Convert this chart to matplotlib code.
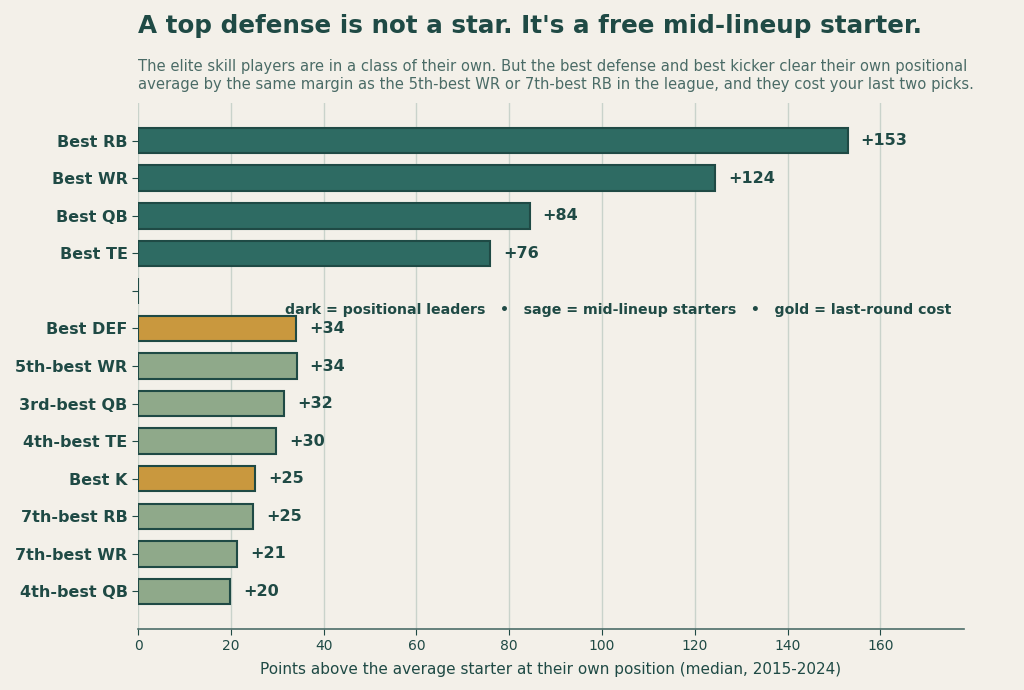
import matplotlib
matplotlib.use("Agg")
import matplotlib.pyplot as plt

# rows, top to bottom ("" is the spacer between leaders and the rest)
labels = ["Best RB", "Best WR", "Best QB", "Best TE", "",
          "Best DEF", "5th-best WR", "3rd-best QB", "4th-best TE",
          "Best K", "7th-best RB", "7th-best WR", "4th-best QB"]
values = [152.9, 124.4, 84.4, 75.8, 0,
          34.0, 34.2, 31.5, 29.8, 25.2, 24.8, 21.4, 19.9]
groups = ["dark", "dark", "dark", "dark", "none",
          "gold", "sage", "sage", "sage", "gold", "sage", "sage", "sage"]

BG = "#f3f0e9"
INK = "#1f4a45"
palette = {"dark": "#2e6b63", "sage": "#8fa98a", "gold": "#c9983e", "none": BG}

fig = plt.figure(figsize=(10.24, 6.9), dpi=100, facecolor=BG)
ax = fig.add_axes([0.1348, 0.0884, 0.8066, 0.7623], facecolor=BG)

ypos = list(range(len(labels)))
ax.barh(ypos, values, height=0.68, color=[palette[g] for g in groups],
        edgecolor=INK, linewidth=1.5, zorder=3)

for y, v, g in zip(ypos, values, groups):
    if g == "none":
        continue
    ax.text(v + 2.8, y, f"+{v:.0f}", va="center", ha="left",
            fontsize=11.5, fontweight="bold", color=INK, zorder=4)

ax.set_yticks(ypos)
ax.set_yticklabels(labels, fontsize=11.5, fontweight="bold", color=INK)
ax.set_ylim(len(labels), -1)
ax.set_xlim(0, 178)
ax.set_xticks(range(0, 161, 20))
ax.tick_params(axis="x", colors=INK, labelsize=10, length=4)
ax.tick_params(axis="y", colors=INK, length=4)
ax.xaxis.grid(True, color="#c9d3cb", linewidth=1, zorder=0)
ax.set_axisbelow(True)
for side in ["top", "right", "left"]:
    ax.spines[side].set_visible(False)
ax.spines["bottom"].set_color("#4d6e69")
ax.spines["bottom"].set_linewidth(1.2)

ax.set_xlabel("Points above the average starter at their own position (median, 2015-2024)",
              fontsize=11, color=INK, labelpad=6)

ax.text(175.3, 4.5,
        "dark = positional leaders   \u2022   sage = mid-lineup starters   \u2022   gold = last-round cost",
        ha="right", va="center", fontsize=10.2, fontweight="bold", color=INK, zorder=5)

fig.text(0.1348, 0.962, "A top defense is not a star. It's a free mid-lineup starter.",
         ha="left", va="center", fontsize=17.7, fontweight="bold", color=INK)
fig.text(0.1348, 0.891,
         "The elite skill players are in a class of their own. But the best defense and best kicker clear their own positional\n"
         "average by the same margin as the 5th-best WR or 7th-best RB in the league, and they cost your last two picks.",
         ha="left", va="center", fontsize=10.6, color="#4a6b66", linespacing=1.28)

fig.savefig("out.png", dpi=100, facecolor=BG)
